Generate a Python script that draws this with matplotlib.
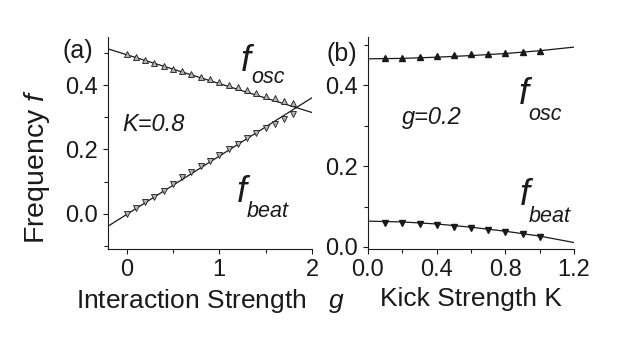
import matplotlib.pyplot as plt
import numpy as np
from matplotlib.ticker import MultipleLocator, FormatStrFormatter

plt.rcParams['font.family'] = ['Liberation Sans', 'DejaVu Sans']
plt.rcParams['mathtext.fontset'] = 'custom'
plt.rcParams['mathtext.it'] = 'Liberation Sans:italic'
plt.rcParams['mathtext.rm'] = 'Liberation Sans'
plt.rcParams['font.size'] = 17

# panel (a): K=0.8, vs interaction strength g
g_pts = [0.0, 0.1, 0.2, 0.3, 0.4, 0.5, 0.6, 0.7, 0.8, 0.9,
         1.0, 1.1, 1.2, 1.3, 1.4, 1.5, 1.6, 1.7, 1.8]
osc_a = [0.496, 0.489, 0.477, 0.468, 0.459, 0.451, 0.443, 0.436, 0.427, 0.418,
         0.410, 0.402, 0.393, 0.385, 0.376, 0.367, 0.359, 0.351, 0.343]
beat_a = [-0.001, 0.017, 0.035, 0.053, 0.072, 0.092, 0.113, 0.130, 0.148, 0.165,
          0.184, 0.201, 0.218, 0.235, 0.250, 0.266, 0.280, 0.294, 0.310]
g_fit = [-0.2, 2.0]
osc_fit_a = [0.513, 0.315]
beat_fit_a = [-0.039, 0.361]

# panel (b): g=0.2, vs kick strength K
K_pts = [0.1, 0.2, 0.3, 0.4, 0.5, 0.6, 0.7, 0.8, 0.9, 1.0]
osc_b = [0.468, 0.469, 0.471, 0.473, 0.475, 0.477, 0.479, 0.481, 0.483, 0.485]
beat_b = [0.060, 0.060, 0.058, 0.055, 0.050, 0.046, 0.041, 0.036, 0.031, 0.025]
K_fit = [0.0, 0.2, 0.4, 0.6, 0.8, 1.0, 1.2]
osc_fit_b = [0.466, 0.467, 0.470, 0.474, 0.479, 0.486, 0.495]
beat_fit_b = [0.064, 0.062, 0.057, 0.049, 0.039, 0.027, 0.011]

ink = '#1a1a1a'
fig = plt.figure(figsize=(6.22, 3.54), dpi=100)
ax1 = fig.add_axes([108/622, 105/354, 204/622, 212/354])
ax2 = fig.add_axes([368/622, 105/354, 206/622, 212/354])

for ax in (ax1, ax2):
    ax.spines['top'].set_visible(False)
    ax.spines['right'].set_visible(False)
    for s in ('left', 'bottom'):
        ax.spines[s].set_linewidth(0.8)
        ax.spines[s].set_color(ink)
    ax.tick_params(which='both', direction='out', width=0.8, color=ink, labelcolor=ink)
    ax.tick_params(which='major', length=3.5, pad=4)
    ax.tick_params(which='minor', length=3)
    ax.yaxis.set_major_locator(MultipleLocator(0.2))
    ax.yaxis.set_minor_locator(MultipleLocator(0.1))
    ax.yaxis.set_major_formatter(FormatStrFormatter('%.1f'))

# (a)
ax1.plot(g_fit, osc_fit_a, color=ink, lw=0.9)
ax1.plot(g_fit, beat_fit_a, color=ink, lw=0.9)
ax1.plot(g_pts, osc_a, '^', ms=4, mfc='0.7', mec=ink, mew=0.6)
ax1.plot(g_pts, beat_a, 'v', ms=4, mfc='0.7', mec=ink, mew=0.6)
ax1.set_xlim(-0.2, 2.0)
ax1.set_ylim(-0.11, 0.55)
ax1.xaxis.set_major_locator(MultipleLocator(1))
ax1.xaxis.set_minor_locator(MultipleLocator(0.5))
ax1.set_xlabel(r'Interaction Strength   $g$', color=ink, fontsize=19, labelpad=4)
ax1.set_ylabel(r'Frequency $f$', color=ink, fontsize=20.5)
ax1.yaxis.set_label_coords(-0.275, 0.39)

# (b)
ax2.plot(K_fit, osc_fit_b, color=ink, lw=0.9)
ax2.plot(K_fit, beat_fit_b, color=ink, lw=0.9)
ax2.plot(K_pts, osc_b, '^', ms=5, color=ink)
ax2.plot(K_pts, beat_b, 'v', ms=5, color=ink)
ax2.set_xlim(0, 1.2)
ax2.set_ylim(-0.005, 0.52)
ax2.xaxis.set_major_locator(MultipleLocator(0.4))
ax2.xaxis.set_minor_locator(MultipleLocator(0.2))
ax2.xaxis.set_major_formatter(FormatStrFormatter('%.1f'))
ax2.set_xlabel('Kick Strength K', color=ink, fontsize=19, labelpad=4)

# annotations (positions in pixels from top-left)
def fig_text(x, y, s, **kw):
    fig.text(x/622, 1 - y/354, s, color=ink, **kw)

fig_text(62, 58, '(a)', fontsize=18, va='baseline')
fig_text(326, 61, '(b)', fontsize=18, va='baseline')
fig_text(122, 131, 'K=0.8', fontsize=17, style='italic', va='baseline')
fig_text(402, 124, 'g=0.2', fontsize=17, style='italic', va='baseline')

for (fx, fy, sx, sy, sub) in [(241, 71, 251, 83, 'osc'), (237, 202, 247, 217, 'beat'),
                              (519, 104, 528, 120, 'osc'), (520, 205, 529, 222, 'beat')]:
    fig_text(fx, fy, 'f', fontsize=26, style='italic', va='baseline')
    fig_text(sx, sy, sub, fontsize=15.5, style='italic', va='baseline')

plt.savefig('out.png', dpi=100)
